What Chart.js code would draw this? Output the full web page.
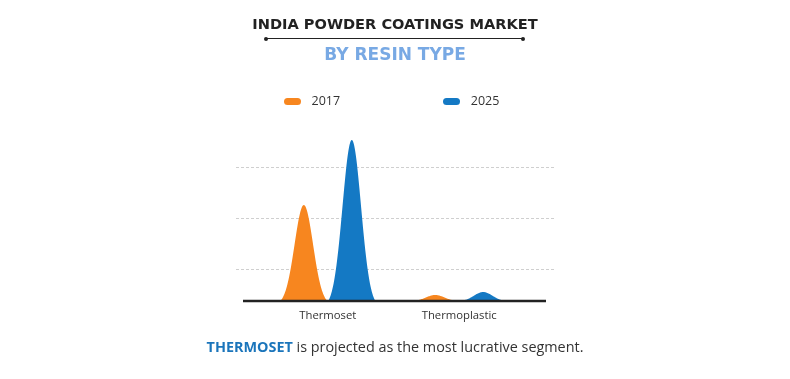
<!DOCTYPE html>
<html>
<head>
<meta charset="utf-8">
<script src="https://cdn.jsdelivr.net/npm/chart.js@4.4.1/dist/chart.umd.min.js"></script>
<style>
  html, body { margin: 0; padding: 0; background: #fff; }
  #wrap { position: relative; width: 790px; height: 379px; overflow: hidden; }
  #c { position: absolute; left: 0; top: 0; }
  .t { position: absolute; left: 0; width: 790px; text-align: center; white-space: nowrap; }
  #title { top: 16.6px; font: bold 14.6px/14.6px "DejaVu Sans", sans-serif; color: #222; }
  #sub { top: 45.6px; font: bold 17px/17px "DejaVu Sans", sans-serif; color: #78a9e4; }
  #rule { position: absolute; left: 266px; top: 38px; width: 257px; height: 1px; background: #222; }
  .dot { position: absolute; top: 36.5px; width: 4px; height: 4px; border-radius: 2px; background: #222; }
  #caption { top: 339.5px; font: 14.4px/14.4px "Open Sans", sans-serif; color: #333; }
  #caption b { color: #1b75bb; font-weight: 700; }
  .leg { position: absolute; top: 94px; height: 14px; font: 12.5px/14px "Open Sans", sans-serif; color: #333; }
  .leg .sw { position: absolute; left: 0; top: 3.7px; width: 16.5px; height: 7.3px; border-radius: 4px; }
  .leg .tx { position: absolute; left: 27.5px; top: 0; }
</style>
</head>
<body>
<div id="wrap">
  <canvas id="c" width="790" height="379"></canvas>
  <div class="t" id="title">INDIA POWDER COATINGS MARKET</div>
  <div id="rule"></div>
  <div class="dot" style="left:264px"></div>
  <div class="dot" style="left:521px"></div>
  <div class="t" id="sub">BY RESIN TYPE</div>
  <div id="legend"></div>
  <div class="t" id="caption"><b>THERMOSET</b> is projected as the most lucrative segment.</div>
</div>
<script>
// ---- data ----
const categories = ['Thermoset', 'Thermoplastic'];
const seriesNames = ['2017', '2025'];
const values2017 = [96, 6];
const values2025 = [161, 9];
const gridValues = [32, 83, 134];
const seriesColors = ['#f7861f', '#1479c4'];
const legendLeft = [284, 443.3];

// HTML legend built from series arrays
const legendEl = document.getElementById('legend');
seriesNames.forEach((name, i) => {
  const d = document.createElement('div');
  d.className = 'leg';
  d.style.left = legendLeft[i] + 'px';
  d.innerHTML = '<span class="sw" style="background:' + seriesColors[i] + '"></span><span class="tx">' + name + '</span>';
  legendEl.appendChild(d);
});

const K = 1.8;
const E0 = Math.exp(-K * K);

const peakPlugin = {
  id: 'peaks',
  beforeDatasetsDraw(chart) {
    const ctx = chart.ctx;
    const y = chart.scales.y;
    ctx.save();
    ctx.strokeStyle = '#cfcfcf';
    ctx.lineWidth = 1;
    ctx.setLineDash([3, 2]);
    gridValues.forEach(v => {
      const py = Math.round(y.getPixelForValue(v)) + 0.5;
      ctx.beginPath();
      ctx.moveTo(236, py);
      ctx.lineTo(555, py);
      ctx.stroke();
    });
    ctx.restore();
  },
  beforeDatasetDraw(chart, args) {
    const ctx = chart.ctx;
    const meta = args.meta;
    const color = chart.data.datasets[args.index].backgroundColor;
    ctx.save();
    ctx.fillStyle = color;
    meta.data.forEach(el => {
      const p = el.getProps(['x', 'y', 'base', 'width'], true);
      const h = p.base - p.y;
      const N = 80;
      ctx.beginPath();
      ctx.moveTo(p.x - p.width / 2, p.base);
      for (let i = 0; i <= N; i++) {
        const t = (i / N) * 2 - 1;
        const f = (Math.exp(-(K * t) * (K * t)) - E0) / (1 - E0);
        ctx.lineTo(p.x - p.width / 2 + p.width * i / N, p.base - h * f);
      }
      ctx.closePath();
      ctx.fill();
    });
    ctx.restore();
    return false;
  },
  afterDatasetsDraw(chart) {
    const ctx = chart.ctx;
    const py = chart.scales.y.getPixelForValue(0);
    ctx.save();
    ctx.strokeStyle = '#222';
    ctx.lineWidth = 2.5;
    ctx.beginPath();
    ctx.moveTo(243, py);
    ctx.lineTo(546, py);
    ctx.stroke();
    ctx.restore();
  }
};

new Chart(document.getElementById('c'), {
  type: 'bar',
  data: {
    labels: categories,
    datasets: [
      { label: seriesNames[0], data: values2017, backgroundColor: seriesColors[0] },
      { label: seriesNames[1], data: values2025, backgroundColor: seriesColors[1] }
    ]
  },
  options: {
    responsive: false,
    animation: false,
    events: [],
    categoryPercentage: 0.73,
    barPercentage: 0.98,
    layout: { padding: { left: 262.1, right: 790 - 524.9, top: 130, bottom: 48 } },
    plugins: { legend: { display: false }, tooltip: { enabled: false } },
    scales: {
      x: {
        grid: { display: false, drawTicks: false },
        border: { display: false },
        ticks: { color: '#333', font: { family: 'Open Sans', size: 11.3 }, padding: 8 },
        afterFit(scale) { scale.height = 30; }
      },
      y: {
        display: false,
        min: 0,
        max: 171
      }
    }
  },
  plugins: [peakPlugin]
});
</script>
</body>
</html>
